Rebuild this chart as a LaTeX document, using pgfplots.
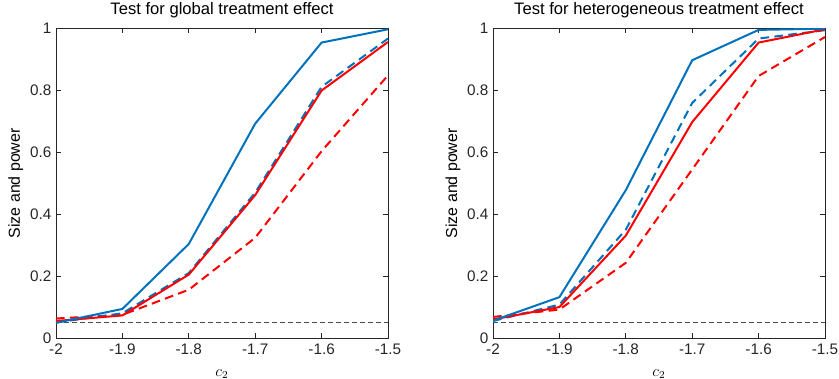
\documentclass[border=0pt]{standalone}
\usepackage{fontspec}
\setmainfont{Liberation Sans}
\usepackage{pgfplots}
\pgfplotsset{compat=1.18}
\definecolor{mblue}{rgb}{0,0.447,0.741}
\definecolor{mgrey}{rgb}{0.3,0.3,0.3}
\definecolor{axgrey}{rgb}{0.15,0.15,0.15}
\pgfplotsset{
  myax/.style={
    scale only axis, width=249bp, height=232bp,
    xmin=-2, xmax=-1.5, ymin=0, ymax=1,
    xtick={-2,-1.9,-1.8,-1.7,-1.6,-1.5},
    xticklabels={-2,-1.9,-1.8,-1.7,-1.6,-1.5},
    ytick={0,0.2,0.4,0.6,0.8,1},
    yticklabels={0,0.2,0.4,0.6,0.8,1},
    tick align=inside,
    major tick length=3.5bp,
    axis line style={axgrey, line width=0.6pt},
    every tick/.style={axgrey, line width=0.5pt},
    tick label style={font=\fontsize{11.5}{13}\selectfont, text=axgrey},
    xticklabel style={yshift=-1bp},
    ylabel={Size and power},
    ylabel style={font=\fontsize{12}{14}\selectfont, at={(axis description cs:0,0.5)}, anchor=south, xshift=0pt, yshift=21bp},
    xlabel={$c_2$},
    xlabel style={font=\fontsize{12}{14}\selectfont, at={(axis description cs:0.5,0)}, anchor=center, yshift=-27bp},
    title style={font=\fontsize{12.5}{14}\selectfont, at={(axis description cs:0.5,1)}, anchor=base, yshift=4.5bp},
    every axis plot/.append style={line width=1.5pt},
    mdash/.style={dash pattern=on 6.5bp off 4bp},
    gdash/.style={mgrey, line width=0.75pt, dash pattern=on 3.75bp off 2.25bp},
  }
}
\begin{document}
\begin{tikzpicture}
\useasboundingbox (-42bp,-30.75bp) rectangle (587.25bp,253.5bp);
\begin{axis}[myax, title={Test for global treatment effect}]
\addplot[gdash] coordinates {(-2,0.05) (-1.5,0.05)};
\addplot[red, mdash] coordinates {(-2,0.063) (-1.9,0.075) (-1.8,0.156) (-1.7,0.324) (-1.6,0.604) (-1.5,0.849)};
\addplot[mblue, mdash] coordinates {(-2,0.05) (-1.9,0.08) (-1.8,0.21) (-1.7,0.47) (-1.6,0.812) (-1.5,0.968)};
\addplot[red] coordinates {(-2,0.055) (-1.9,0.073) (-1.8,0.205) (-1.7,0.462) (-1.6,0.80) (-1.5,0.957)};
\addplot[mblue] coordinates {(-2,0.049) (-1.9,0.094) (-1.8,0.304) (-1.7,0.693) (-1.6,0.955) (-1.5,0.998)};
\end{axis}
\begin{axis}[myax, xshift=327.75bp, title={Test for heterogeneous treatment effect}]
\addplot[gdash] coordinates {(-2,0.05) (-1.5,0.05)};
\addplot[red, mdash] coordinates {(-2,0.068) (-1.9,0.092) (-1.8,0.243) (-1.7,0.545) (-1.6,0.847) (-1.5,0.973)};
\addplot[mblue, mdash] coordinates {(-2,0.055) (-1.9,0.108) (-1.8,0.35) (-1.7,0.76) (-1.6,0.968) (-1.5,0.995)};
\addplot[red] coordinates {(-2,0.06) (-1.9,0.10) (-1.8,0.331) (-1.7,0.698) (-1.6,0.955) (-1.5,0.998)};
\addplot[mblue] coordinates {(-2,0.056) (-1.9,0.132) (-1.8,0.478) (-1.7,0.898) (-1.6,0.996) (-1.5,1.0)};
\end{axis}
\end{tikzpicture}
\end{document}
